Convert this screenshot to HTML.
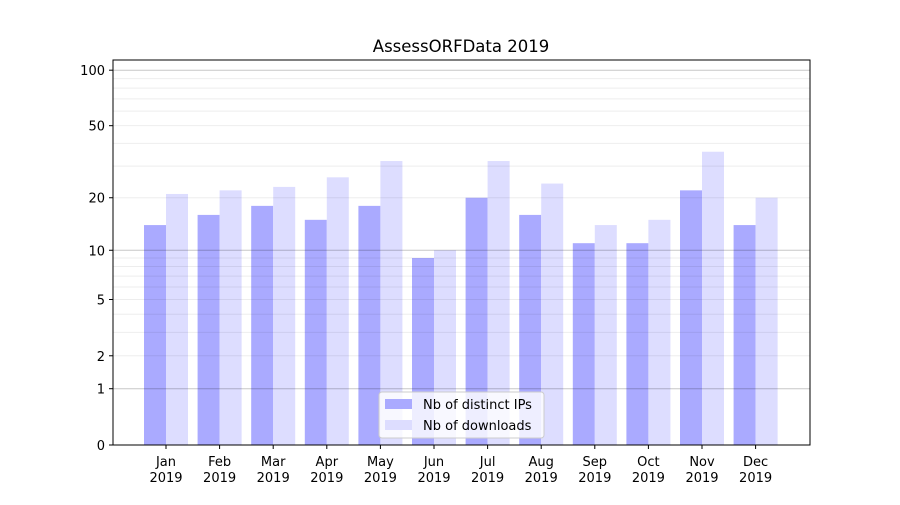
<!DOCTYPE html><html><head><style>body{margin:0;background:#fff}</style></head><body>
<svg width="900" height="500" xmlns="http://www.w3.org/2000/svg" font-family="DejaVu Sans, Liberation Sans, sans-serif">
<rect width="900" height="500" fill="#fff"/>
<g id="bars"></g>
<g id="grid"></g>
<rect x="113" y="60" width="697" height="385" fill="none" stroke="#000" stroke-width="1"/>
<g id="ticks" font-size="13" fill="#000"></g>
<text x="461" y="52" font-size="16.5" text-anchor="middle">AssessORFData 2019</text>
<g>
<rect x="379" y="392" width="165" height="46" rx="3" fill="#fff" fill-opacity="0.8" stroke="#ccc"/>
<rect x="385" y="399" width="27" height="10" fill="#aaaaff"/>
<rect x="385" y="420" width="27" height="10" fill="#ddddff"/>
<text x="423" y="409" font-size="13">Nb of distinct IPs</text>
<text x="423" y="430" font-size="13">Nb of downloads</text>
</g>
<script>
var ns="http://www.w3.org/2000/svg";
function Y(v){return 445-187*Math.log10(1+v);}
function el(p,t,a,txt){var e=document.createElementNS(ns,t);for(var k in a)e.setAttribute(k,a[k]);if(txt!=null)e.textContent=txt;document.getElementById(p).appendChild(e);}
var vals=[];for(var d=1;d<=100;d*=10)for(var m=1;m<10;m++){var v=m*d;if(v<=110)vals.push(v);}
vals.forEach(function(v){var maj=(v==1||v==10||v==100);el("grid","line",{x1:113,x2:810,y1:Y(v),y2:Y(v),stroke:"#000","stroke-opacity":maj?0.22:0.07,"stroke-width":1});});
var a=[14,16,18,15,18,9,20,16,11,11,22,14],b=[21,22,23,26,32,10,32,24,14,15,36,20];
var mo=["Jan","Feb","Mar","Apr","May","Jun","Jul","Aug","Sep","Oct","Nov","Dec"];
for(var i=0;i<12;i++){var c=166+i*53.6;
el("bars","rect",{x:c-22,y:Y(a[i]),width:22,height:445-Y(a[i]),fill:"#aaaaff"});
el("bars","rect",{x:c,y:Y(b[i]),width:22,height:445-Y(b[i]),fill:"#ddddff"});
el("ticks","line",{x1:c,x2:c,y1:445,y2:449,stroke:"#000"});
el("ticks","text",{x:c,y:466,"text-anchor":"middle"},mo[i]);
el("ticks","text",{x:c,y:482,"text-anchor":"middle"},"2019");}
[0,1,2,5,10,20,50,100].forEach(function(v){el("ticks","line",{x1:109,x2:113,y1:Y(v),y2:Y(v),stroke:"#000"});el("ticks","text",{x:105,y:Y(v)+5,"text-anchor":"end"},String(v));});
</script>
</svg></body></html>
